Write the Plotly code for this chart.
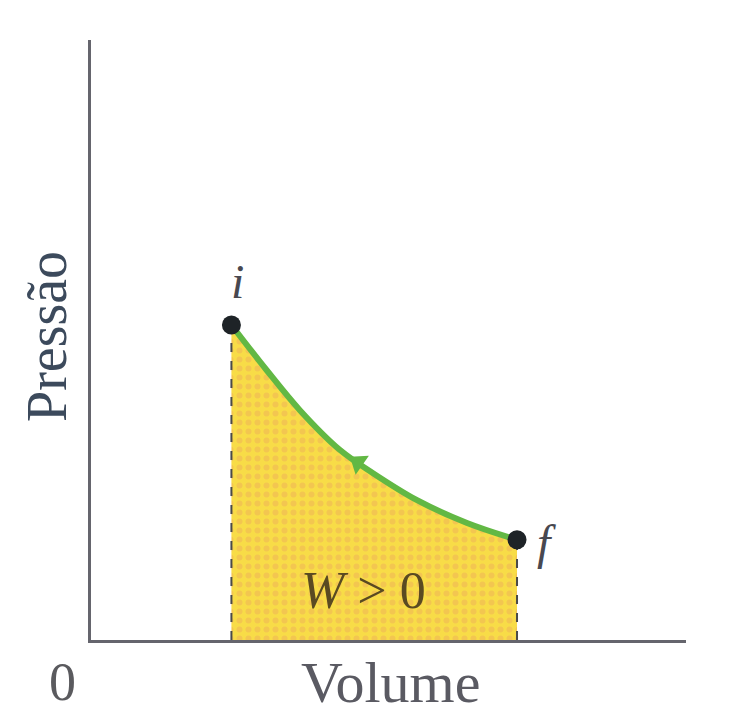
import plotly.graph_objects as go

# Values (arbitrary units, axis range 0..10)
curve_volume = [2.36, 2.95, 3.51, 4.18, 4.74, 5.48, 6.32, 7.16]
curve_pressure = [5.25, 4.50, 3.83, 3.17, 2.78, 2.33, 1.95, 1.67]
state_labels = ["i", "f"]
arrow_volume = [4.49]
arrow_pressure = [2.96]
x_title = "Volume"
y_title = "Pressão"
origin_label = "0"
work_label = "<i>W</i> > 0"

vi, vf = curve_volume[0], curve_volume[-1]
pi_, pf = curve_pressure[0], curve_pressure[-1]

serif = "Liberation Serif, Times New Roman, serif"
green = "#62b844"

fig = go.Figure()

# shaded work area under the curve
fig.add_trace(go.Scatter(
    x=curve_volume, y=curve_pressure,
    mode="lines", line=dict(width=0, shape="spline", color="#f8dc47"),
    fill="tozeroy", fillcolor="#f8dc47",
    fillpattern=dict(shape=".", bgcolor="#f8dc47", fgcolor="#eeb05a",
                     size=9, solidity=0.35),
    hoverinfo="skip", showlegend=False))

# dashed verticals
for v, p in [(vi, pi_), (vf, pf)]:
    fig.add_trace(go.Scatter(x=[v, v], y=[0, p], mode="lines",
                             line=dict(color="#4a4a4a", width=2, dash="dash"),
                             hoverinfo="skip", showlegend=False))

# green process curve
fig.add_trace(go.Scatter(x=curve_volume, y=curve_pressure, mode="lines",
                         line=dict(color=green, width=6, shape="spline"),
                         showlegend=False))

# arrow head
fig.add_trace(go.Scatter(x=arrow_volume, y=arrow_pressure, mode="markers",
                         marker=dict(symbol="triangle-left", size=20, angle=35,
                                     color=green),
                         showlegend=False))

# state points
fig.add_trace(go.Scatter(x=[vi, vf], y=[pi_, pf], mode="markers",
                         marker=dict(size=19, color="#1e2327"),
                         showlegend=False))

W, H = 595.0, 600.0  # plot area size in px


def px(xp):
    return (xp - 91) / W


def py(yp):
    return (640 - yp) / H


annotations = [
    dict(xref="x", yref="y", x=vi + 0.1, y=pi_ + 0.72, text="<i>" + state_labels[0] + "</i>",
         font=dict(size=48, family=serif, color="#484850")),
    dict(xref="x", yref="y", x=vf + 0.5, y=pf - 0.05, text="<i>" + state_labels[1] + "</i>",
         font=dict(size=48, family=serif, color="#484850")),
    dict(xref="x", yref="y", x=4.58, y=0.82, text=work_label,
         font=dict(size=52, family=serif, color="#5a4a22")),
    dict(xref="paper", yref="paper", x=px(62), y=py(682), text=origin_label,
         font=dict(size=54, family=serif, color="#5a5a5e")),
    dict(xref="paper", yref="paper", x=px(390), y=py(682), text=x_title,
         font=dict(size=58, family=serif, color="#5a5a62")),
    dict(xref="paper", yref="paper", x=px(47), y=py(337), text=y_title, textangle=-90,
         font=dict(size=56, family=serif, color="#3c4a5c")),
]
for a in annotations:
    a.update(showarrow=False, xanchor="center", yanchor="middle")

fig.update_layout(
    width=721, height=710,
    margin=dict(l=83, r=43, t=32, b=78),
    paper_bgcolor="white", plot_bgcolor="white",
    annotations=annotations,
    xaxis=dict(range=[0, 10], showgrid=False, zeroline=False, showticklabels=False,
               showline=True, linecolor="#65656d", linewidth=3, ticks=""),
    yaxis=dict(range=[0, 10], showgrid=False, zeroline=False, showticklabels=False,
               showline=True, linecolor="#65656d", linewidth=3, ticks=""),
)

fig.write_html("out.html")
